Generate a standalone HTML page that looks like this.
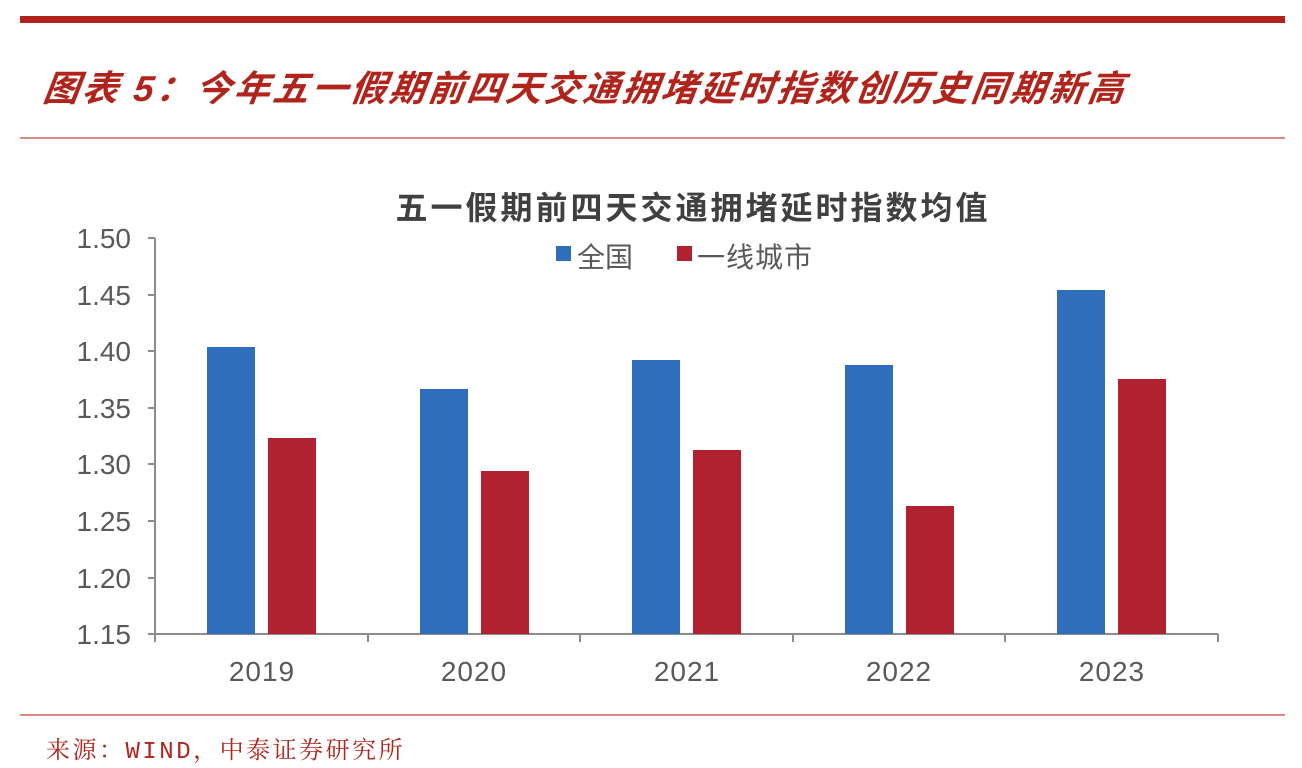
<!DOCTYPE html>
<html><head><meta charset="utf-8"><style>
body{margin:0;background:#fff;width:1302px;height:768px;overflow:hidden;position:relative;font-family:"Liberation Sans","Noto Sans CJK SC",sans-serif}
.a{position:absolute}
</style></head><body>
<div class="a" style="left:20px;top:16px;width:1265px;height:7px;background:#b0241c"></div>
<div class="a" style="left:44px;top:60px;font-size:36px;font-weight:bold;font-style:italic;color:#b0241c;white-space:nowrap;letter-spacing:2.8px;transform:skewX(-8deg)">图表 5：今年五一假期前四天交通拥堵延时指数创历史同期新高</div>
<div class="a" style="left:20px;top:137px;width:1265px;height:2px;background:#d88a84"></div>
<div class="a" style="left:0;width:1386px;top:183px;text-align:center;font-size:32px;font-weight:bold;color:#404040;letter-spacing:3px">五一假期前四天交通拥堵延时指数均值</div>
<div class="a" style="left:556px;top:246px;width:15px;height:15px;background:#2f6ebb"></div>
<div class="a" style="left:577px;top:236px;font-size:28px;color:#595959">全国</div>
<div class="a" style="left:677px;top:246px;width:15px;height:15px;background:#b02230"></div>
<div class="a" style="left:697px;top:236px;font-size:28px;color:#595959;letter-spacing:1px">一线城市</div>
<svg class="a" style="left:0;top:0" width="1302" height="768">
<g font-family="Liberation Sans" font-size="28" fill="#595959" text-anchor="end">
<text x="131" y="248">1.50</text><text x="131" y="305">1.45</text><text x="131" y="361">1.40</text><text x="131" y="418">1.35</text><text x="131" y="474">1.30</text><text x="131" y="531">1.25</text><text x="131" y="588">1.20</text><text x="131" y="644">1.15</text>
</g>
<g stroke="#8c8c8c" stroke-width="2" fill="none">
<line x1="155" y1="238" x2="155" y2="634"/>
<line x1="155" y1="634" x2="1218" y2="634"/>
<path d="M148 238H155M148 295H155M148 351H155M148 408H155M148 464H155M148 521H155M148 578H155M148 634H155"/>
<path d="M155 634V642M368 634V642M580 634V642M793 634V642M1005 634V642M1218 634V642"/>
</g>
<g fill="#2f6ebb">
<rect x="207" y="347" width="48" height="287"/>
<rect x="420" y="389" width="48" height="245"/>
<rect x="632" y="360" width="48" height="274"/>
<rect x="845" y="365" width="48" height="269"/>
<rect x="1057" y="290" width="48" height="344"/>
</g>
<g fill="#b02230">
<rect x="268" y="438" width="48" height="196"/>
<rect x="481" y="471" width="48" height="163"/>
<rect x="693" y="450" width="48" height="184"/>
<rect x="906" y="506" width="48" height="128"/>
<rect x="1118" y="379" width="48" height="255"/>
</g>
<g font-family="Liberation Sans" font-size="28" fill="#595959" text-anchor="middle" letter-spacing="1">
<text x="262" y="681">2019</text><text x="474" y="681">2020</text><text x="687" y="681">2021</text><text x="899" y="681">2022</text><text x="1112" y="681">2023</text>
</g>
</svg>
<div class="a" style="left:20px;top:714px;width:1265px;height:2px;background:#d88a84"></div>
<div class="a" style="left:46px;top:730px;font-size:24px;color:#b0241c;font-family:'Liberation Mono','Noto Serif CJK SC',serif;white-space:nowrap;letter-spacing:2.5px">来源：WIND，中泰证券研究所</div>
</body></html>
